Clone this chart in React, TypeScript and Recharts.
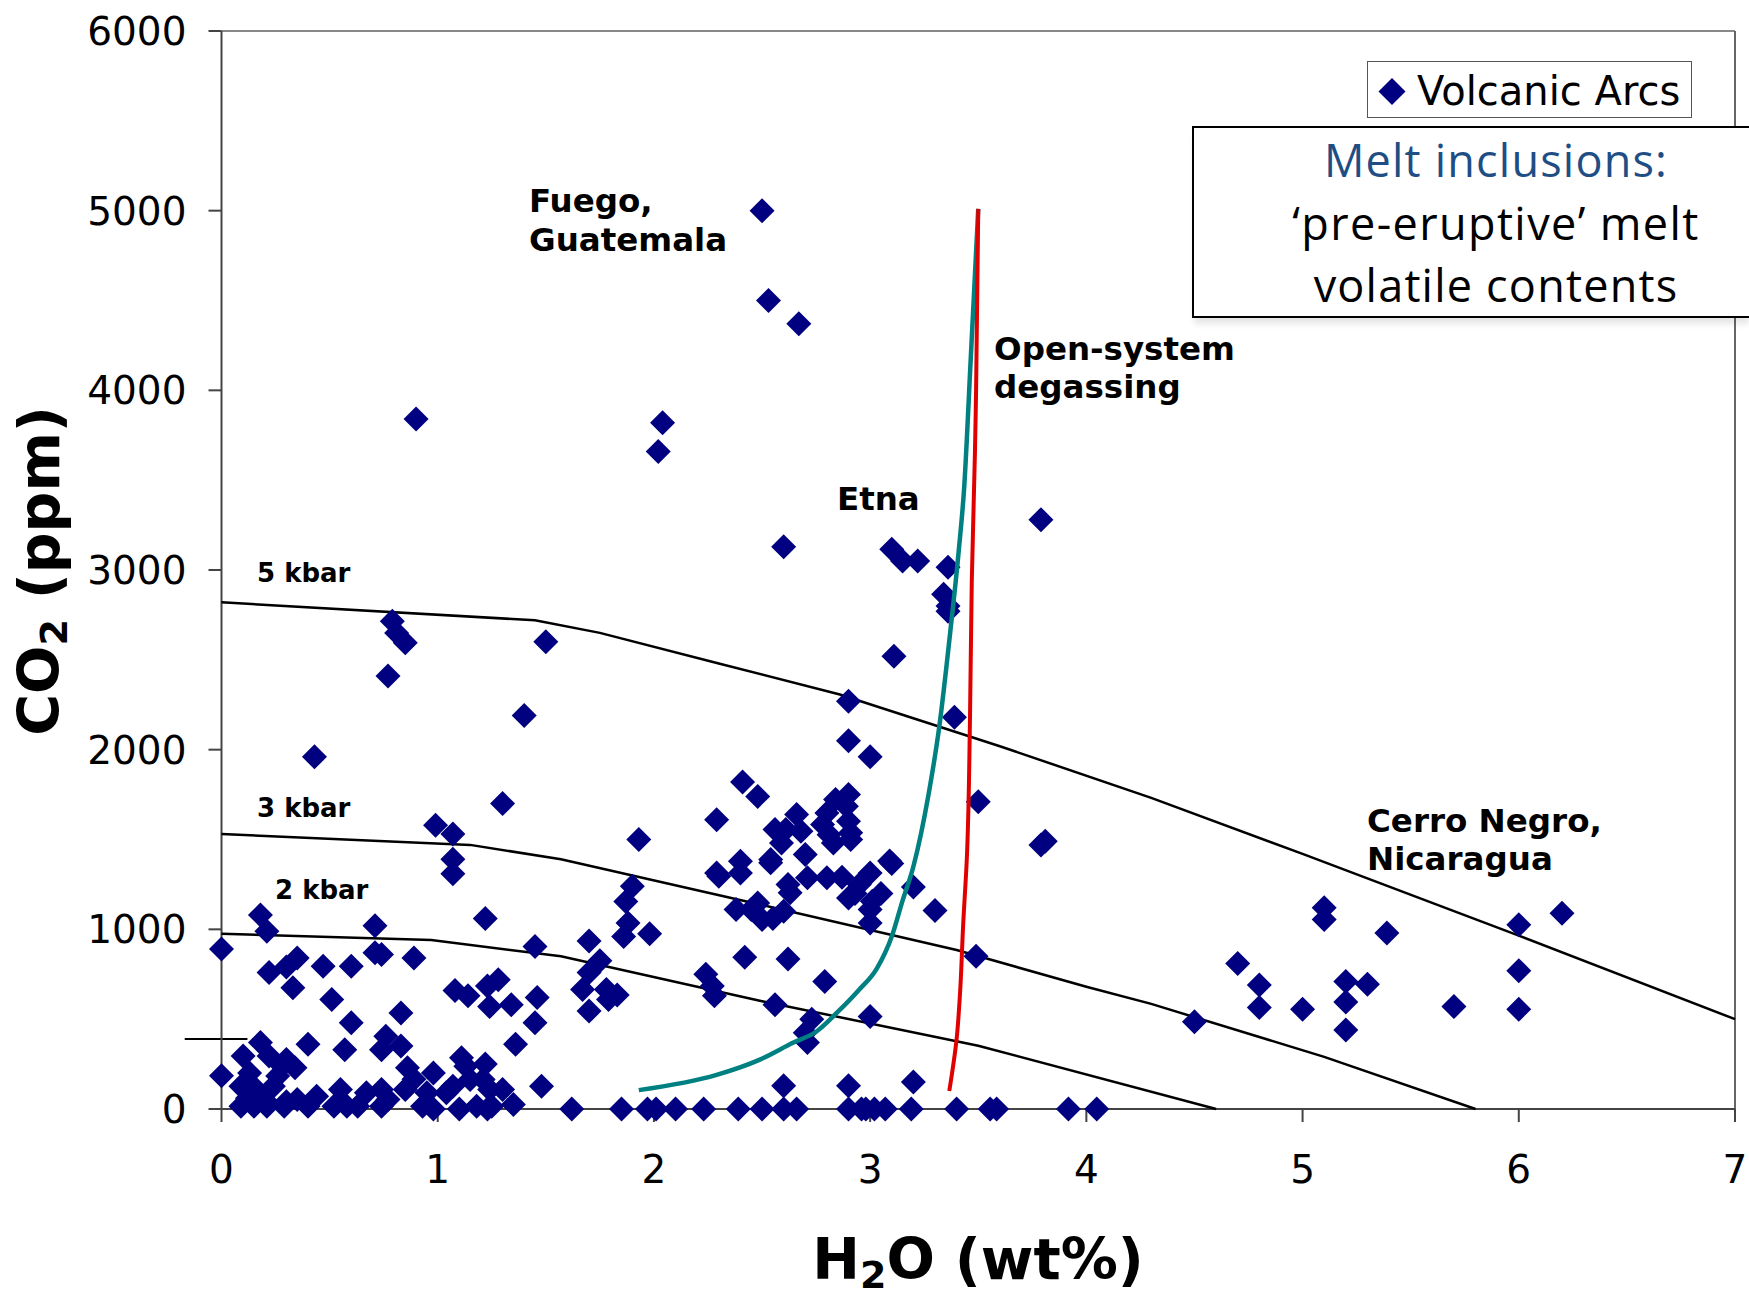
import React from "react";
import { ScatterChart, Scatter, XAxis, YAxis, ReferenceLine } from "recharts";

// axis ticks
const xTicks = [0, 1, 2, 3, 4, 5, 6, 7];
const yTicks = [0, 1000, 2000, 3000, 4000, 5000, 6000];

// melt inclusion data [H2O wt%, CO2 ppm]
const fuegoPoints = [
  [2.5, 5000], [2.53, 4500], [2.67, 4370], [2.04, 3820], [2.02, 3660], [0.9, 3840],
];
const etnaPoints = [
  [2.6, 3130], [3.1, 3115], [3.15, 3050], [3.22, 3050], [3.36, 3015], [3.34, 2865],
  [3.36, 2800], [3.36, 2770], [3.11, 2520], [3.39, 2180], [2.9, 2270], [2.9, 2050],
  [3.0, 1960], [3.5, 1710], [3.79, 3280], [3.79, 1470], [3.81, 1490], [3.49, 850],
  [3.3, 1105], [3.2, 1235],
];
const midCluster = [
  [2.41, 1820], [2.48, 1740], [2.29, 1610], [1.93, 1500], [2.9, 1750], [2.84, 1722],
  [2.89, 1685], [2.8, 1648], [2.9, 1602], [2.78, 1583], [2.91, 1537], [2.81, 1527],
  [2.83, 1481], [2.91, 1500], [2.66, 1639], [2.61, 1555], [2.56, 1555], [2.68, 1546],
  [2.59, 1481], [2.54, 1388], [2.7, 1416], [3.09, 1380], [2.4, 1379], [2.29, 1314],
  [2.3, 1296], [2.4, 1314], [2.38, 1110], [2.48, 1147], [2.5, 1055], [2.6, 1100],
  [2.63, 1203], [2.71, 1287], [2.8, 1287], [2.9, 1175], [3.0, 1314], [3.01, 1156],
  [3.1, 1366], [2.54, 1370], [3.0, 1035], [3.0, 1110], [2.95, 1250], [2.87, 1290],
  [2.93, 1200], [3.05, 1200], [2.62, 1250], [2.55, 1060], [2.45, 1110],
  [2.24, 750], [2.27, 685], [2.28, 630], [2.42, 845], [2.62, 835], [2.56, 580],
  [2.79, 710], [2.71, 370], [2.7, 425], [2.73, 500], [3.0, 515], [2.6, 130],
  [2.9, 130], [3.2, 150],
];
const leftUpper = [
  [0.79, 2715], [0.81, 2650], [0.85, 2595], [0.77, 2410], [1.5, 2600], [1.4, 2190],
  [0.43, 1960], [1.3, 1700], [0.99, 1580], [1.07, 1530], [1.07, 1390], [1.07, 1310],
  [1.9, 1240], [1.87, 1155], [1.88, 1035], [1.86, 960], [1.98, 975], [1.7, 935],
  [1.75, 825], [1.7, 760], [1.67, 665], [1.78, 665], [1.83, 635], [1.7, 545],
  [1.79, 610], [1.45, 905], [1.46, 620], [1.45, 480], [1.36, 360], [1.48, 127],
];
const leftLower = [
  [0.18, 1080], [0.21, 990], [0, 890], [0.71, 1020], [0.71, 870], [0.74, 860],
  [1.22, 1060], [0.89, 840], [0.35, 840], [0.3, 790], [0.22, 760], [0.47, 795],
  [0.6, 795], [0.33, 675], [0.51, 610], [0.6, 480], [0.83, 535], [1.08, 660],
  [1.14, 630], [1.23, 685], [1.28, 720], [1.24, 570], [1.34, 580], [0.4, 360],
  [0.57, 330], [0.74, 330], [0.83, 350], [0.76, 405], [0.18, 370], [0.1, 295],
  [0, 185], [0.3, 275], [0.34, 230], [0.22, 295], [0.28, 240], [0.13, 200],
  [0.09, 127], [0.16, 110], [0.24, 127], [0.26, 183], [0.86, 230], [0.89, 165],
  [0.85, 108], [0.95, 90], [0.98, 200], [1.04, 90], [1.07, 127], [1.11, 285],
  [1.13, 238], [1.15, 164], [1.22, 250], [1.21, 164], [1.24, 108], [1.3, 108],
  [0.35, 53], [0.44, 71], [0.55, 108], [0.67, 90], [0.74, 108], [0.77, 53],
  [0.2, 50], [0.12, 60], [0.3, 40],
];
const baseRow = [
  [0.09, 15], [0.15, 15], [0.21, 15], [0.29, 15], [0.4, 15], [0.52, 15], [0.58, 15],
  [0.63, 15], [0.74, 15], [0.93, 15], [0.98, 0], [1.1, 0], [1.18, 15], [1.23, 0],
  [1.25, 15], [1.35, 25], [1.62, 0], [1.85, 0], [1.97, 0], [2.01, 0], [2.1, 0],
  [2.23, 0], [2.39, 0], [2.5, 0], [2.6, 0], [2.66, 0], [2.9, 0], [2.96, 0], [2.98, 0],
  [3.02, 0], [3.07, 0], [3.19, 0], [3.4, 0], [3.555, 0], [3.585, 0], [3.917, 0], [4.048, 0],
];
const cerroNegro = [
  [5.1, 1120], [5.1, 1055], [5.39, 980], [6.0, 1025], [6.2, 1090], [6.0, 770],
  [6.0, 555], [5.7, 570], [4.7, 810], [4.8, 690], [4.8, 565], [5.0, 555],
  [5.2, 710], [5.3, 695], [5.2, 595], [5.2, 440], [4.5, 485],
];

// saturation isobars
const isobar5 = [
  [0, 2820], [1.45, 2720], [1.75, 2650], [2.3, 2480], [2.86, 2307], [3.6, 2019],
  [4.3, 1732], [5, 1420], [6, 965], [7, 500],
];
const isobar3 = [
  [0, 1530], [1.15, 1470], [1.57, 1390], [2.5, 1135], [3.4, 885], [4, 680],
  [4.3, 585], [5.1, 290], [5.8, 0],
];
const isobar2 = [
  [0, 975], [0.97, 940], [1.57, 850], [2.5, 600], [3.5, 352], [4.6, 0],
];

// degassing paths
const closedPath = [
  [1.93, 105], [2.29, 190], [2.49, 275], [2.645, 370], [2.75, 430], [2.85, 540],
  [2.95, 665], [3.03, 780], [3.1, 960], [3.15, 1160], [3.2, 1350], [3.27, 1750],
  [3.32, 2130], [3.37, 2650], [3.41, 3110], [3.435, 3460], [3.465, 4170], [3.5, 5010],
];
const openPath = [
  [3.366, 100], [3.4, 390], [3.416, 650], [3.43, 1020], [3.447, 1390], [3.462, 2190],
  [3.47, 2930], [3.485, 3670], [3.49, 4000], [3.5, 5010],
];

const toXY = (rows: number[][]) => rows.map(([x, y]) => ({ x, y }));

const arcData = toXY([
  ...fuegoPoints, ...etnaPoints, ...midCluster, ...leftUpper,
  ...leftLower, ...baseRow, ...cerroNegro,
]);

const NAVY = "#000080";
const boldFont = "DejaVu Sans";

const Diamond = (props: any) => {
  const { cx, cy } = props;
  if (cx == null || cy == null) return <g />;
  const r = 12.5;
  return (
    <path
      d={`M${cx},${cy - r}L${cx + r},${cy}L${cx},${cy + r}L${cx - r},${cy}Z`}
      fill={NAVY}
    />
  );
};

const NoDot = () => <g />;

export default function App() {
  const tickStyle = { fill: "#000", fontSize: 39, fontFamily: "DejaVu Sans" };
  return (
    <div
      style={{
        position: "absolute",
        left: 0,
        top: 0,
        width: 1749,
        height: 1298,
        background: "#fff",
        overflow: "hidden",
      }}
    >
      <ScatterChart
        width={1749}
        height={1298}
        margin={{ top: 31, right: 14, bottom: 0, left: 0 }}
      >
        <XAxis
          type="number"
          dataKey="x"
          domain={[0, 7]}
          ticks={xTicks}
          tick={tickStyle}
          tickSize={13}
          tickMargin={33}
          height={189}
          stroke="#444"
          strokeWidth={2}
        />
        <YAxis
          type="number"
          dataKey="y"
          domain={[0, 6000]}
          ticks={yTicks}
          tick={tickStyle}
          tickSize={13}
          tickMargin={22}
          width={221.5}
          stroke="#444"
          strokeWidth={2}
        />
        <ReferenceLine y={6000} stroke="#888" strokeWidth={2} />
        <ReferenceLine x={7} stroke="#666" strokeWidth={2} />
        <ReferenceLine
          segment={[{ x: -0.17, y: 390 }, { x: 0.12, y: 390 }]}
          stroke="#000"
          strokeWidth={2}
          ifOverflow="visible"
        />
        <Scatter data={toXY(isobar5)} line={{ stroke: "#000", strokeWidth: 2.5 }} shape={NoDot} isAnimationActive={false} />
        <Scatter data={toXY(isobar3)} line={{ stroke: "#000", strokeWidth: 2.5 }} shape={NoDot} isAnimationActive={false} />
        <Scatter data={toXY(isobar2)} line={{ stroke: "#000", strokeWidth: 2.5 }} shape={NoDot} isAnimationActive={false} />
        <Scatter name="Volcanic Arcs" data={arcData} shape={Diamond} isAnimationActive={false} />
        <Scatter
          data={toXY(closedPath)}
          line={{ stroke: "#008080", strokeWidth: 4.5 }}
          lineJointType="monotoneX"
          shape={NoDot}
          isAnimationActive={false}
        />
        <Scatter
          data={toXY(openPath)}
          line={{ stroke: "#e00000", strokeWidth: 4 }}
          lineJointType="monotoneY"
          shape={NoDot}
          isAnimationActive={false}
        />
      </ScatterChart>

      {/* legend */}
      <div
        style={{
          position: "absolute",
          left: 1367,
          top: 61,
          width: 323,
          height: 55,
          border: "1px solid #555",
          background: "#fff",
        }}
      />

      {/* text box */}
      <div
        style={{
          position: "absolute",
          left: 1192,
          top: 126,
          width: 557,
          height: 188,
          borderTop: "2px solid #000",
          borderBottom: "2px solid #000",
          borderLeft: "2px solid #000",
          background: "#fff",
          boxShadow: "0 8px 6px -2px rgba(0,0,0,0.10)",
        }}
      />

      <svg
        width={1749}
        height={1298}
        style={{ position: "absolute", left: 0, top: 0, pointerEvents: "none" }}
      >
        <path d="M1392,78 L1405.5,91.5 L1392,105 L1378.5,91.5 Z" fill={NAVY} />
        <text x={1417} y={105} fontFamily="DejaVu Sans" fontSize={40} fill="#000">
          Volcanic Arcs
        </text>

        <g fontFamily="Open Sans" fontSize={45} textAnchor="middle">
          <text x={1496} y={177} fill="#1f4e85" letterSpacing={1.2}>Melt inclusions:</text>
          <text x={1496} y={240} fill="#000" letterSpacing={1.4}>‘pre-eruptive’ melt</text>
          <text x={1496} y={302} fill="#000" letterSpacing={1.2}>volatile contents</text>
        </g>

        <g fontFamily={boldFont} fontWeight="bold" fill="#000">
          <text x={529} y={212} fontSize={32.5}>Fuego,</text>
          <text x={529} y={251} fontSize={32.5}>Guatemala</text>
          <text x={994} y={360} fontSize={32.5}>Open-system</text>
          <text x={994} y={398} fontSize={32.5}>degassing</text>
          <text x={837} y={510} fontSize={32.5}>Etna</text>
          <text x={1367} y={832} fontSize={32.5}>Cerro Negro,</text>
          <text x={1367} y={870} fontSize={32.5}>Nicaragua</text>
          <text x={257} y={582} fontSize={26}>5 kbar</text>
          <text x={257} y={817} fontSize={26}>3 kbar</text>
          <text x={275} y={899} fontSize={26}>2 kbar</text>

          <text x={978} y={1279} fontSize={57} textAnchor="middle">
            H<tspan fontSize={38} dy={9}>2</tspan>
            <tspan dy={-9}>O (wt%)</tspan>
          </text>
          <text transform="translate(59,571) rotate(-90)" fontSize={57} textAnchor="middle">
            CO<tspan fontSize={38} dy={8}>2</tspan>
            <tspan dy={-8}> (ppm)</tspan>
          </text>
        </g>
      </svg>
    </div>
  );
}
